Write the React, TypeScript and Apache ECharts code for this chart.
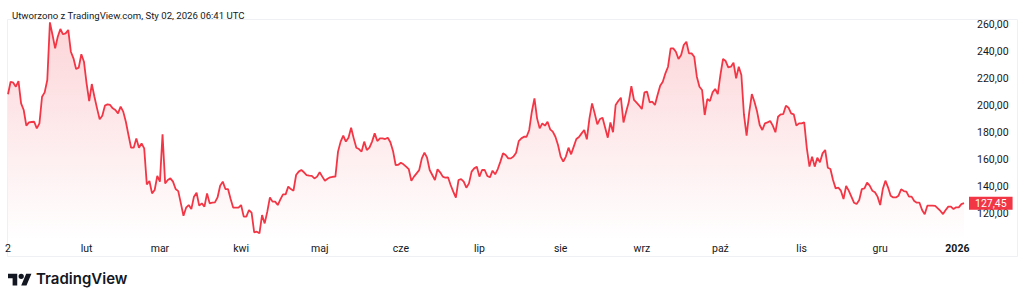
import React, { useEffect, useRef } from "react";
import * as echarts from "echarts";

// Daily closes, 2025-01-02 .. 2026-01-02 (one value per calendar day)
const START_DATE = "2025-01-02";
const prices: number[] = [
  208.0, 217.3, 216.6, 213.6, 217.8, 201.3, 196.4, 184.8, 187.2, 187.5,
  187.7, 182.8, 186.5, 206.2, 209.4, 218.6, 261.2, 251.9, 242.0, 250.6,
  256.3, 252.4, 253.1, 255.6, 239.5, 234.6, 226.7, 227.7, 237.6, 232.1,
  216.1, 203.0, 215.6, 206.2, 197.6, 189.5, 192.2, 199.6, 200.6, 200.1,
  197.6, 196.4, 193.9, 198.9, 195.2, 187.7, 177.9, 168.5, 168.5, 175.4,
  168.5, 171.7, 168.0, 141.4, 143.9, 134.7, 137.2, 147.6, 143.4, 178.4,
  142.1, 144.6, 145.8, 143.4, 137.9, 136.4, 127.3, 118.2, 124.1, 126.1,
  123.1, 132.3, 135.2, 125.6, 127.3, 124.9, 134.7, 127.3, 127.8, 128.1,
  131.7, 140.4, 143.4, 137.9, 137.9, 130.5, 124.1, 124.1, 124.1, 126.1,
  117.5, 117.5, 122.4, 120.4, 105.9, 106.4, 105.2, 118.7, 112.5, 121.2,
  131.7, 128.6, 128.6, 126.1, 130.3, 134.0, 134.0, 139.7, 137.9, 136.7,
  148.3, 150.8, 152.0, 150.3, 148.3, 147.8, 147.6, 145.8, 147.1, 150.3,
  147.1, 144.1, 145.5, 146.6, 147.0, 147.1, 165.6, 173.0, 177.4, 173.0,
  175.9, 183.3, 175.4, 168.5, 167.5, 165.6, 173.0, 166.8, 168.5, 173.0,
  179.1, 173.4, 175.4, 175.4, 174.9, 175.9, 172.5, 166.1, 155.7, 155.9,
  157.4, 156.2, 154.5, 152.7, 144.1, 147.1, 149.5, 152.0, 160.6, 164.8,
  161.1, 152.0, 148.3, 144.6, 152.5, 150.3, 147.1, 146.3, 146.6, 140.9,
  136.0, 131.5, 144.6, 145.3, 143.4, 138.9, 142.1, 150.8, 153.2, 154.4,
  147.1, 152.0, 152.0, 147.6, 146.6, 151.5, 148.8, 152.7, 158.2, 164.3,
  163.1, 160.6, 160.6, 161.9, 164.8, 173.4, 175.4, 176.6, 176.6, 181.6,
  195.1, 205.0, 190.2, 182.8, 186.5, 184.8, 187.7, 182.1, 180.4, 176.6,
  170.5, 161.9, 158.2, 161.9, 168.5, 163.6, 169.3, 174.9, 176.4, 179.1,
  181.6, 174.7, 190.2, 201.3, 193.9, 185.8, 189.7, 190.7, 183.3, 175.9,
  187.2, 179.9, 200.1, 203.0, 205.5, 187.2, 195.1, 202.1, 214.1, 203.8,
  201.8, 199.7, 197.1, 209.4, 209.9, 202.0, 202.5, 200.1, 207.5, 214.4,
  217.3, 223.5, 228.4, 242.0, 242.0, 239.5, 234.1, 237.1, 244.5, 246.9,
  238.3, 238.3, 235.8, 221.0, 213.6, 211.2, 192.7, 204.5, 203.0, 209.4,
  211.9, 208.2, 222.3, 234.1, 232.6, 227.9, 228.4, 231.4, 219.8, 228.4,
  222.3, 192.7, 177.4, 194.7, 208.2, 202.5, 195.2, 185.3, 181.6, 186.5,
  187.2, 188.2, 184.8, 179.9, 191.4, 193.2, 193.4, 199.6, 198.1, 193.9,
  193.2, 184.8, 186.5, 186.5, 187.2, 168.0, 154.5, 161.9, 154.5, 161.1,
  157.7, 164.3, 166.8, 153.7, 152.7, 144.6, 138.4, 138.9, 136.7, 130.5,
  140.2, 136.7, 132.3, 127.8, 126.8, 129.8, 137.9, 138.4, 142.6, 140.4,
  136.7, 135.5, 132.3, 126.1, 137.9, 144.1, 139.2, 133.0, 131.7, 131.7,
  133.0, 137.7, 136.4, 136.0, 132.3, 132.3, 129.1, 127.8, 127.8, 122.4,
  119.2, 125.6, 125.6, 125.6, 125.4, 123.6, 121.7, 119.4, 122.4, 124.9,
  124.9, 123.1, 124.4, 124.4, 126.8, 127.45,
];

const monthLabels = ["sty", "lut", "mar", "kwi", "maj", "cze", "lip", "sie", "wrz", "paź", "lis", "gru"];
const LAST_PRICE = 127.45;
const Y_MIN = 100;
const Y_MAX = 263.7;
const Y_STEP = 20;
const TITLE = "Utworzono z TradingView.com, Sty 02, 2026 06:41 UTC";
const BRAND = "TradingView";

const RED = "#F23645";
const TEXT = "#131722";
const FONT = "Roboto, 'Noto Sans', sans-serif";

function buildDates(start: string, n: number): string[] {
  const t0 = Date.parse(start + "T00:00:00Z");
  const out: string[] = [];
  for (let i = 0; i < n; i++) {
    out.push(new Date(t0 + i * 86400000).toISOString().slice(0, 10));
  }
  return out;
}

const fmtPl = (v: number) => v.toFixed(2).replace(".", ",");

let logoRegistered = false;
function registerLogo() {
  if (logoRegistered) return;
  logoRegistered = true;
  const d =
    "M14 22H7V11H0V4h14v18z M28 22h-8l7.5-18h8L28 22z M20 12a4 4 0 1 0 0-8a4 4 0 1 0 0 8z";
  echarts.graphic.registerShape("tvlogo", echarts.graphic.extendPath(d, {}) as any);
}

export default function App() {
  const ref = useRef<HTMLDivElement>(null);

  useEffect(() => {
    if (!ref.current) return;
    registerLogo();
    const chart = echarts.init(ref.current, null, { renderer: "svg" });
    const dates = buildDates(START_DATE, prices.length);

    const option: any = {
      animation: false,
      backgroundColor: "#ffffff",
      title: {
        text: TITLE,
        left: 7,
        top: 5,
        textStyle: { fontFamily: FONT, fontSize: 9.6, fontWeight: "normal", color: TEXT },
      },
      grid: { left: 8, right: 60, top: 19, height: 221.3, containLabel: false },
      xAxis: {
        type: "category",
        data: dates,
        boundaryGap: false,
        axisLine: { show: false },
        axisTick: { show: false },
        splitLine: { show: false },
        axisLabel: {
          margin: 3,
          fontFamily: FONT,
          fontSize: 10.5,
          color: TEXT,
          interval: (i: number, v: string) => i === 0 || v.endsWith("-01"),
          formatter: (v: string, i: number) => {
            if (i === 0) return String(Number(v.slice(8, 10)));
            const m = Number(v.slice(5, 7)) - 1;
            if (m === 0) return "{y|" + v.slice(0, 4) + "}";
            return monthLabels[m];
          },
          rich: {
            y: { fontFamily: FONT, fontSize: 10.5, fontWeight: "bold", color: TEXT, padding: [0, 8, 0, 0] },
          },
        },
      },
      yAxis: {
        type: "value",
        position: "right",
        min: Y_MIN,
        max: Y_MAX,
        interval: Y_STEP,
        axisLine: { show: false },
        axisTick: { show: false },
        splitLine: { show: false },
        axisLabel: {
          margin: 13,
          fontFamily: FONT,
          fontSize: 10.5,
          color: TEXT,
          formatter: (v: number) => (v <= Y_MIN ? "" : fmtPl(v)),
        },
      },
      series: [
        {
          type: "line",
          data: prices,
          showSymbol: false,
          symbol: "none",
          lineStyle: { color: RED, width: 1.8 },
          itemStyle: { color: RED },
          areaStyle: {
            origin: "start",
            color: new echarts.graphic.LinearGradient(0, 0, 0, 1, [
              { offset: 0, color: "rgba(242,54,69,0.3)" },
              { offset: 1, color: "rgba(242,54,69,0.0)" },
            ]),
          },
          markLine: {
            silent: true,
            symbol: "none",
            lineStyle: { color: "rgba(0,0,0,0)", width: 0, type: "solid" },
            data: [{ yAxis: LAST_PRICE }],
            label: {
              show: true,
              position: "end",
              distance: 5,
              formatter: () => fmtPl(LAST_PRICE),
              backgroundColor: RED,
              color: "#ffffff",
              fontFamily: FONT,
              fontSize: 10.5,
              lineHeight: 11,
              padding: [1, 6, 1, 6],
            },
            z: 10,
          },
        },
      ],
      graphic: [
        {
          type: "rect",
          silent: true,
          shape: { x: 7.5, y: 19.5, width: 1010, height: 237 },
          style: { fill: "none", stroke: "#eef0f4", lineWidth: 1 },
          z: -1,
        },
        {
          type: "tvlogo",
          x: 8,
          y: 271,
          scaleX: 0.66,
          scaleY: 0.66,
          style: { fill: TEXT },
        },
        {
          type: "text",
          left: 36,
          top: 271,
          style: {
            text: BRAND,
            fill: TEXT,
            fontFamily: "Inter, 'Noto Sans', sans-serif",
            fontSize: 15,
            fontWeight: 600,
          },
        },
      ],
    };

    chart.setOption(option);
    return () => chart.dispose();
  }, []);

  return (
    <div
      ref={ref}
      style={{ position: "absolute", left: 0, top: 0, width: 1024, height: 302, background: "#fff" }}
    />
  );
}
